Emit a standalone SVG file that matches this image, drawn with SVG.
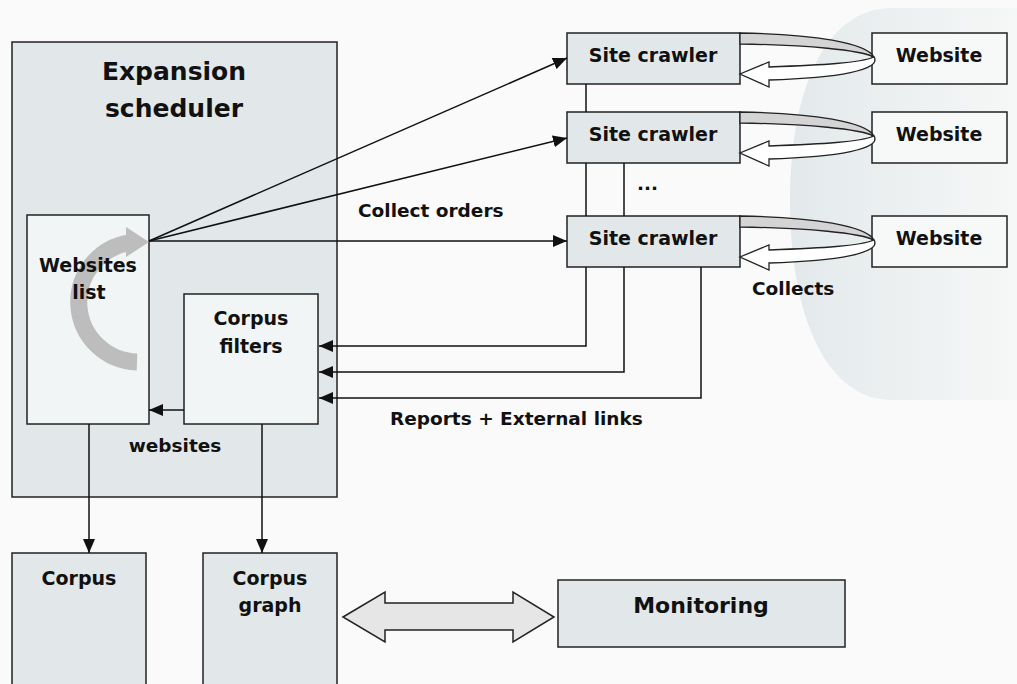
<svg xmlns="http://www.w3.org/2000/svg" width="1017" height="684" viewBox="0 0 1017 684">
<defs>
<style>
.box{fill:#e2e8e9;stroke:#222;stroke-width:1.5}
.inner{fill:#f2f5f5;stroke:#222;stroke-width:1.5}
.web{fill:#f7f8f8;stroke:#222;stroke-width:1.5}
.t{font-family:"DejaVu Sans","Liberation Sans",sans-serif;font-weight:bold;font-size:19px;fill:#111;text-anchor:middle}
.l{font-family:"DejaVu Sans","Liberation Sans",sans-serif;font-weight:bold;font-size:18.5px;fill:#111}
.c{fill:none;stroke:#111;stroke-width:1.5}
</style>
<marker id="ah" markerUnits="userSpaceOnUse" markerWidth="14" markerHeight="12" refX="14" refY="6" orient="auto">
<path d="M0,0 L14,6 L0,12 Z" fill="#111"/>
</marker>
<linearGradient id="bg" x1="0" y1="0" x2="1" y2="0">
<stop offset="0" stop-color="#e3e9eb"/>
<stop offset="1" stop-color="#f6f7f7"/>
</linearGradient>
<g id="loop">
<path d="M740,33 C815,34 866,43 874,57 C860,50 808,45 740,44 Z" fill="#d4d4d4" stroke="#222" stroke-width="1.3"/>
<path d="M874,57 C882,70 838,78 769,80 L769,87 L740,74 L769,62 L769,67 C822,65 860,63 874,57 Z" fill="#ffffff" stroke="#222" stroke-width="1.3"/>
</g>
</defs>
<rect x="0" y="0" width="1017" height="684" fill="#fafafa"/>
<path d="M1017,8 L892,8 C825,8 790,90 790,200 C790,320 828,400 892,400 L1017,400 Z" fill="url(#bg)"/>

<g id="expansion-scheduler">
<rect class="box" x="12" y="42" width="325" height="455"/>
<text class="t" x="174" y="80" style="font-size:25px">Expansion</text>
<text class="t" x="174" y="117" style="font-size:25px">scheduler</text>
</g>

<g id="websites-list">
<rect class="inner" x="27" y="215" width="122" height="209"/>
<path d="M137,362 A60,60 0 0 1 128,243" fill="none" stroke="#bdbdbd" stroke-width="17"/>
<polygon points="126,227 149,242 126,257" fill="#bdbdbd"/>
<text class="t" x="88" y="272">Websites</text>
<text class="t" x="89" y="299">list</text>
</g>

<g id="corpus-filters">
<rect class="inner" x="184" y="294" width="134" height="130"/>
<text class="t" x="251" y="325">Corpus</text>
<text class="t" x="251" y="353">filters</text>
</g>

<g id="site-crawler-1">
<rect class="box" x="567" y="33" width="173" height="51"/>
<text class="t" x="653" y="62">Site crawler</text>
</g>
<g id="site-crawler-2">
<rect class="box" x="567" y="112" width="173" height="51"/>
<text class="t" x="653" y="141">Site crawler</text>
</g>
<g id="site-crawler-3">
<rect class="box" x="567" y="216" width="173" height="51"/>
<text class="t" x="653" y="245">Site crawler</text>
</g>

<g id="website-1">
<rect class="web" x="872" y="33" width="135" height="51"/>
<text class="t" x="939" y="62">Website</text>
</g>
<g id="website-2">
<rect class="web" x="872" y="112" width="135" height="51"/>
<text class="t" x="939" y="141">Website</text>
</g>
<g id="website-3">
<rect class="web" x="872" y="216" width="135" height="51"/>
<text class="t" x="939" y="245">Website</text>
</g>

<g id="corpus">
<rect class="box" x="12" y="553" width="134" height="140"/>
<text class="t" x="79" y="585">Corpus</text>
</g>
<g id="corpus-graph">
<rect class="box" x="203" y="553" width="134" height="140"/>
<text class="t" x="270" y="585">Corpus</text>
<text class="t" x="270" y="612">graph</text>
</g>
<g id="monitoring">
<rect class="box" x="558" y="580" width="287" height="67"/>
<text class="t" x="701" y="613" style="font-size:22px">Monitoring</text>
</g>

<g id="connectors">
<line class="c" x1="149" y1="241" x2="567" y2="58" marker-end="url(#ah)"/>
<line class="c" x1="149" y1="241" x2="567" y2="138" marker-end="url(#ah)"/>
<line class="c" x1="149" y1="241" x2="567" y2="241" marker-end="url(#ah)"/>
<line class="c" x1="586" y1="84" x2="586" y2="112"/>
<line class="c" x1="586" y1="163" x2="586" y2="216"/>
<line class="c" x1="624" y1="163" x2="624" y2="216"/>
<polyline class="c" points="586,267 586,346 319,346" marker-end="url(#ah)"/>
<polyline class="c" points="624,267 624,372 319,372" marker-end="url(#ah)"/>
<polyline class="c" points="701,267 701,398 319,398" marker-end="url(#ah)"/>
<line class="c" x1="184" y1="410" x2="149" y2="410" marker-end="url(#ah)"/>
<line class="c" x1="89" y1="424" x2="89" y2="553" marker-end="url(#ah)"/>
<line class="c" x1="262" y1="424" x2="262" y2="553" marker-end="url(#ah)"/>
<use href="#loop"/>
<use href="#loop" transform="translate(0,79)"/>
<use href="#loop" transform="translate(0,183)"/>
<polygon points="343,617 385,592 385,603 513,603 513,592 554,617 513,642 513,630 385,630 385,642" fill="#e6e6e6" stroke="#222" stroke-width="1.5"/>
</g>

<g id="labels">
<text class="l" x="358" y="217">Collect orders</text>
<text class="l" x="752" y="295">Collects</text>
<text class="l" x="390" y="425">Reports + External links</text>
<text class="l" x="175" y="452" style="text-anchor:middle">websites</text>
<text class="l" x="637" y="190">...</text>
</g>
</svg>
